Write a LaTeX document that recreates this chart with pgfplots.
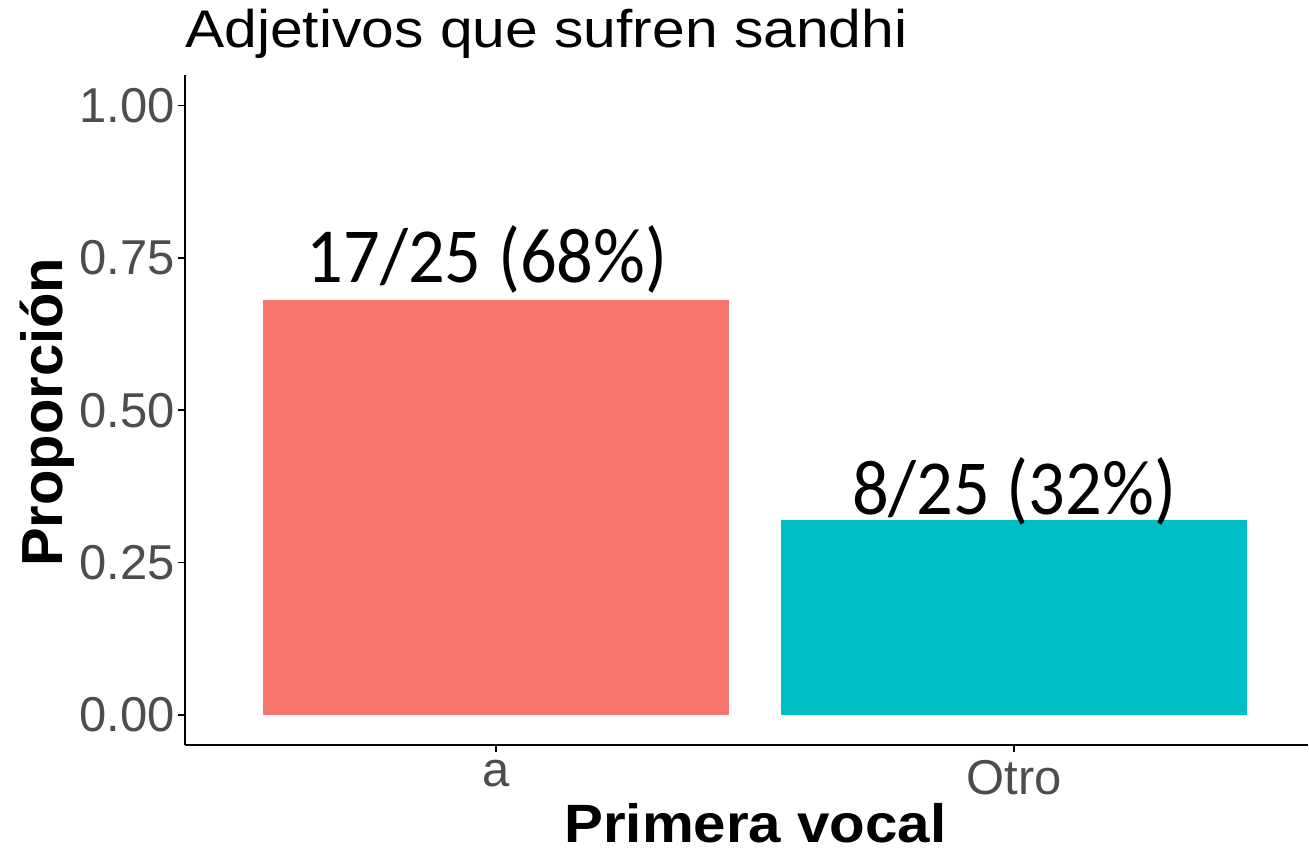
\documentclass[border=0pt]{standalone}
\usepackage{fontspec}
\setmainfont{Liberation Sans}
\newfontfamily\titlefont[FakeStretch=1.11]{Liberation Sans}
\newfontfamily\xlabfont[FakeStretch=1.08]{Liberation Sans}
\newfontfamily\barfont[FakeStretch=0.93]{Carlito}
\usepackage{pgfplots}
\pgfplotsset{compat=1.18}
\definecolor{gred}{HTML}{F8766D}
\definecolor{gteal}{HTML}{00BFC4}
\definecolor{tickgray}{HTML}{4D4D4D}

\begin{document}
\begin{tikzpicture}
\begin{axis}[
  name=ax,
  width=562pt, height=335.5pt, scale only axis,
  xmin=0.4, xmax=2.567, ymin=-0.05, ymax=1.05,
  axis x line*=bottom, axis y line*=left,
  axis line style={line width=1pt, black},
  xtick={1,2}, xticklabels={a,Otro},
  ytick={0,0.25,0.5,0.75,1},
  tick align=outside, major tick length=3.5pt,
  tick style={line width=0.8pt, black},
  /pgf/number format/assume math mode=true,
  yticklabel style={/pgf/number format/fixed, /pgf/number format/fixed zerofill,
    /pgf/number format/precision=2, font=\fontsize{24.5}{29}\selectfont,
    text=tickgray, inner sep=0pt, anchor=east, xshift=-1.5pt},
  xticklabel style={font=\fontsize{24.5}{29}\selectfont, text=tickgray,
    inner sep=0pt, anchor=north, yshift=-3.5pt},
  title={Adjetivos que sufren sandhi},
  title style={at={(axis description cs:0,1)}, anchor=base west, inner sep=0pt,
    yshift=7.5pt, font=\titlefont\fontsize{26.5}{31}\selectfont},
  xlabel={Primera vocal},
  every axis x label/.style={at={(axis description cs:0.508,0)}, anchor=base,
    inner sep=0pt, yshift=-48.5pt, font=\xlabfont\bfseries\fontsize{27}{32}\selectfont},
  ylabel={Proporción},
  every axis y label/.style={at={(axis description cs:0,0.497)}, xshift=-61pt,
    rotate=90, anchor=base, inner sep=0pt, font=\bfseries\fontsize{29}{34}\selectfont},
]
\addplot[ybar, bar width=0.9, bar shift=0pt, fill=gred, draw=none] coordinates {(1,0.68)};
\addplot[ybar, bar width=0.9, bar shift=0pt, fill=gteal, draw=none] coordinates {(2,0.32)};
\node[font=\barfont\fontsize{39}{46}\selectfont, anchor=base, inner sep=0pt]
  at (axis cs:0.983,0.709) {17/25 (68\%)};
\node[font=\barfont\fontsize{39}{46}\selectfont, anchor=base, inner sep=0pt]
  at (axis cs:2.0,0.329) {8/25 (32\%)};
\end{axis}
\path (ax.south west) ++(-92.5pt,-54.5pt) rectangle ++(0.1pt,0.1pt);
\path (ax.north east) ++(-0.1pt,37.4pt) rectangle ++(0.1pt,0.1pt);
\end{tikzpicture}
\end{document}
